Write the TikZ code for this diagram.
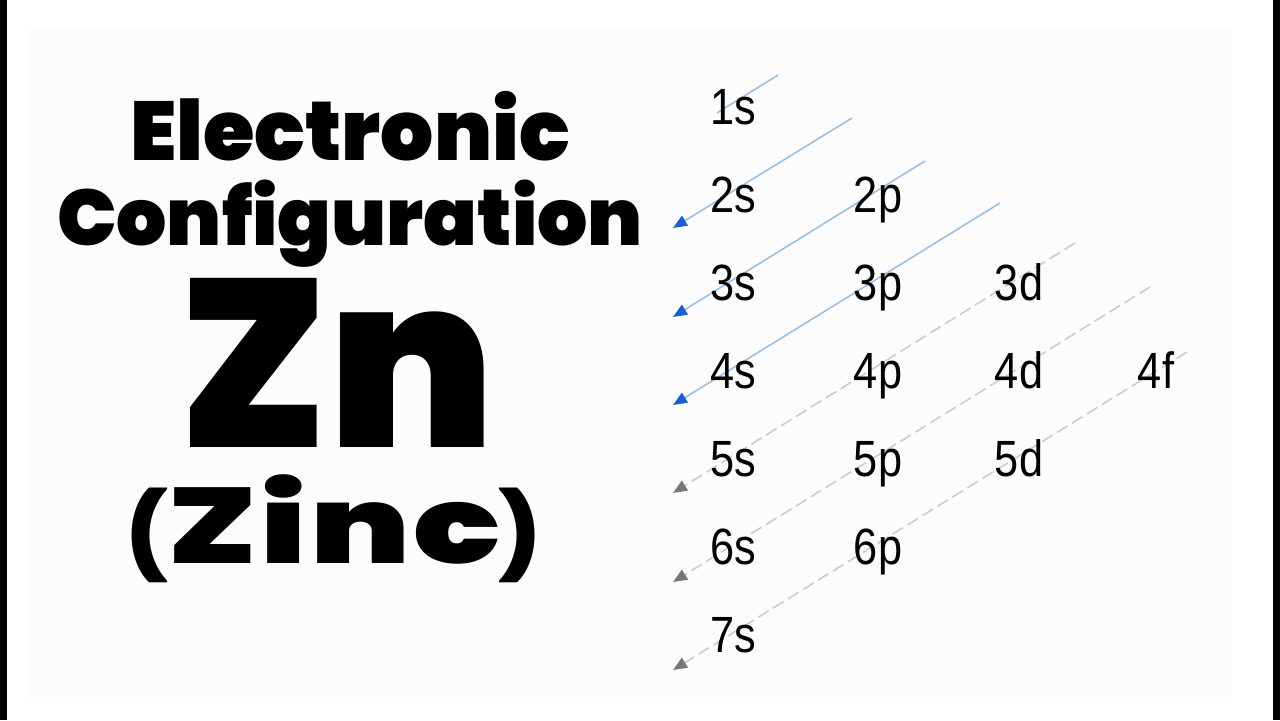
\documentclass[tikz,border=0pt]{standalone}
\usepackage{fontspec}
\usetikzlibrary{arrows.meta,positioning}
\setmainfont{Liberation Sans}
\newfontfamily\orbfont{Liberation Sans}[FakeStretch=0.85]
\IfFontExistsTF{Poppins Black}
  {\newfontfamily\heavyfont{Poppins Black}
   \newfontfamily\wideheavy{Poppins Black}[FakeStretch=1.34,LetterSpace=3]}
  {\newfontfamily\heavyfont{Poppins}[UprightFont={* Bold}]
   \newfontfamily\wideheavy{Poppins}[UprightFont={* Bold},FakeStretch=1.34,LetterSpace=3]}
\definecolor{shellblue}{HTML}{9DBFE3}
\definecolor{tipblue}{HTML}{1A5FCC}
\definecolor{shellgray}{HTML}{CCCCCC}
\definecolor{tipgray}{HTML}{777777}
\newcommand{\paren}[1]{{\heavyfont\fontsize{48}{48}\selectfont #1}}
\begin{document}
\begin{tikzpicture}[x=0.02cm,y=-0.02cm,
   orb/.style={font=\orbfont\fontsize{29}{30}\selectfont,anchor=base,inner sep=0pt},
   title/.style={anchor=base,inner sep=0pt},
   filled/.style={draw=shellblue,line width=0.9pt,-{Triangle[length=8pt,width=6.5pt,color=tipblue]}},
   empty/.style={draw=shellgray,line width=0.9pt,dash pattern=on 7pt off 3pt,-{Triangle[length=8pt,width=6.5pt,color=tipgray]}}]
   % Page
   \useasboundingbox (0,0) rectangle (1280,720);
   \fill[white] (0,0) rectangle (1280,720);
   \fill[black!1] (30,30) rectangle (1232,703);
   \fill[black] (0,0) rectangle (7,720);
   \fill[black] (1273,0) rectangle (1280,720);
   % Title
   \node[title,font=\heavyfont\fontsize{47.5}{48}\selectfont] (elec) at (350,160) {Electronic};
   \node[title,font=\heavyfont\fontsize{45}{45}\selectfont] (conf) at (350,245) {Configuration};
   \node[title,font=\heavyfont\fontsize{136}{136}\selectfont] (zn) at (337,447) {Zn};
   \node[title,font=\wideheavy\fontsize{61}{61}\selectfont] (zinc) at (334,563) {\paren{(}Zinc\paren{)}};
   % Arrow ends
   \coordinate (a1) at (778,75);  \coordinate (b1) at (717,113);
   \coordinate (a2) at (852,118); \coordinate (b2) at (673,228);
   \coordinate (a3) at (925,161); \coordinate (b3) at (673,317);
   \coordinate (a4) at (1000,203); \coordinate (b4) at (673,405);
   \coordinate (a5) at (1075,243); \coordinate (b5) at (673,493);
   \coordinate (a6) at (1150,287); \coordinate (b6) at (673,582);
   \coordinate (a7) at (1187,352); \coordinate (b7) at (673,670);
   % Filled shells
   \draw[draw=shellblue,line width=0.9pt] (a1) -- (b1);
   \draw[filled] (a2) -- (b2);
   \draw[filled] (a3) -- (b3);
   \draw[filled] (a4) -- (b4);
   % Remaining shells
   \draw[empty] (a5) -- (b5);
   \draw[empty] (a6) -- (b6);
   \draw[empty] (a7) -- (b7);
   % Orbitals
   \node[orb] (s1) at (733,124) {1s};
   \node[orb] (s2) at (733,212) {2s};
   \node[orb] (p2) at (878,212) {2p};
   \node[orb] (s3) at (733,300) {3s};
   \node[orb] (p3) at (878,300) {3p};
   \node[orb] (d3) at (1019,300) {3d};
   \node[orb] (s4) at (733,388) {4s};
   \node[orb] (p4) at (878,388) {4p};
   \node[orb] (d4) at (1019,388) {4d};
   \node[orb] (f4) at (1156,388) {4f};
   \node[orb] (s5) at (733,476) {5s};
   \node[orb] (p5) at (878,476) {5p};
   \node[orb] (d5) at (1019,476) {5d};
   \node[orb] (s6) at (733,564) {6s};
   \node[orb] (p6) at (878,564) {6p};
   \node[orb] (s7) at (733,652) {7s};
\end{tikzpicture}
\end{document}
